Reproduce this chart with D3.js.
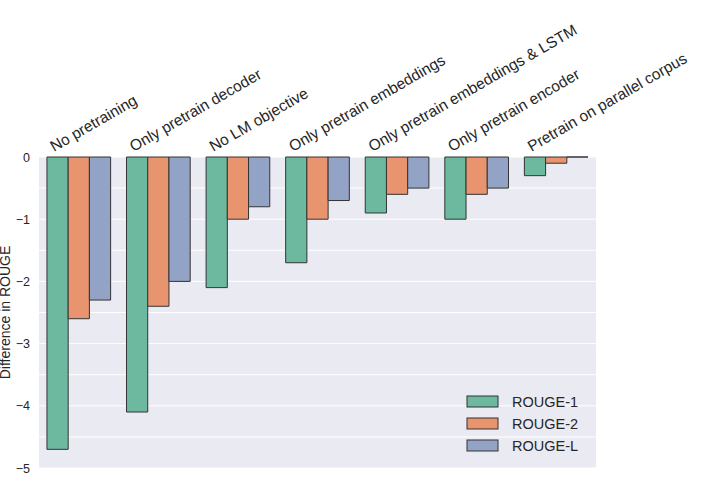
<!DOCTYPE html>
<html>
<head>
<meta charset="utf-8">
<script src="https://cdn.jsdelivr.net/npm/d3@7"></script>
<style>
  body { margin: 0; background: #fff; }
  svg { display: block; font-family: "Liberation Sans", Arial, sans-serif; }
</style>
</head>
<body>
<div id="chart"></div>
<script>
// data
const categories = ["No pretraining", "Only pretrain decoder", "No LM objective",
  "Only pretrain embeddings", "Only pretrain embeddings & LSTM",
  "Only pretrain encoder", "Pretrain on parallel corpus"];
const seriesNames = ["ROUGE-1", "ROUGE-2", "ROUGE-L"];
const rouge1 = [-4.7, -4.1, -2.1, -1.7, -0.9, -1.0, -0.3];
const rouge2 = [-2.6, -2.4, -1.0, -1.0, -0.6, -0.6, -0.1];
const rougeL = [-2.3, -2.0, -0.8, -0.7, -0.5, -0.5, 0.0];
const yTicks = [0, -1, -2, -3, -4, -5];

const colors = ["#6db9a0", "#e8956f", "#93a3c6"];
const seriesValues = [rouge1, rouge2, rougeL];

let width = 705, height = 494;
let margin = ({ top: 157, right: 109, bottom: 26, left: 39 });

let svg = d3.select("#chart").append("svg")
    .attr("width", width)
    .attr("height", height);

let x = d3.scaleBand()
    .domain(d3.range(categories.length))
    .range([margin.left, width - margin.right])
    .paddingInner(0)
    .paddingOuter(0);

let x1 = d3.scaleBand()
    .domain(d3.range(seriesNames.length))
    .range([x.bandwidth() * 0.1, x.bandwidth() * 0.9]);

let y = d3.scaleLinear()
    .domain([-5, 0])
    .range([height - margin.bottom, margin.top]);

// background panel
svg.append("rect")
    .attr("x", margin.left)
    .attr("y", margin.top)
    .attr("width", width - margin.left - margin.right)
    .attr("height", height - margin.top - margin.bottom)
    .attr("fill", "#eaeaf2");

// grid lines every 0.5
svg.append("g")
    .selectAll("line")
    .data(d3.range(-5, 0.01, 0.5))
    .join("line")
    .attr("x1", margin.left)
    .attr("x2", width - margin.right)
    .attr("y1", d => y(d))
    .attr("y2", d => y(d))
    .attr("stroke", "#fff")
    .attr("stroke-width", 1);

// bars (as paths so a zero bar still shows its edge)
let rows = [];
categories.forEach((c, i) => {
    seriesValues.forEach((vals, s) => rows.push({ i, s, value: vals[i] }));
});

svg.append("g")
    .selectAll("path")
    .data(rows)
    .join("path")
    .attr("d", d => {
        let x0 = x(d.i) + x1(d.s), w = x1.bandwidth();
        let y0 = y(0), y1v = y(d.value);
        return `M${x0},${y0}H${x0 + w}V${y1v}H${x0}Z`;
    })
    .attr("fill", d => colors[d.s])
    .attr("stroke", "#333")
    .attr("stroke-width", 1);

// y axis
let yAxis = g => g
    .attr("transform", `translate(${margin.left},0)`)
    .call(d3.axisLeft(y).tickValues(yTicks).tickFormat(d3.format("d")).tickSize(0).tickPadding(9))
    .call(g => g.select(".domain").remove())
    .selectAll("text")
    .style("font-size", "12.5px")
    .style("font-family", "Liberation Sans, Arial, sans-serif")
    .attr("fill", "#262626");

svg.append("g").call(yAxis);

// category labels, rotated
svg.append("g")
    .selectAll("text")
    .data(categories)
    .join("text")
    .attr("transform", (d, i) => `translate(${x(i) + 15},${margin.top - 5}) rotate(-30)`)
    .attr("text-anchor", "start")
    .style("font-size", "15.5px")
    .attr("fill", "#262626")
    .text(d => d);

// y axis title
svg.append("text")
    .attr("transform", `translate(10,${(margin.top + height - margin.bottom) / 2}) rotate(-90)`)
    .attr("text-anchor", "middle")
    .style("font-size", "14px")
    .attr("fill", "#262626")
    .text("Difference in ROUGE");

// legend
let legend = svg.append("g")
    .selectAll("g")
    .data(seriesNames)
    .join("g")
    .attr("transform", (d, i) => `translate(467,${396 + i * 22})`);

legend.append("rect")
    .attr("width", 31)
    .attr("height", 11)
    .attr("fill", (d, i) => colors[i])
    .attr("stroke", "#333")
    .attr("stroke-width", 1);

legend.append("text")
    .attr("x", 45)
    .attr("y", 11)
    .style("font-size", "14.5px")
    .attr("fill", "#262626")
    .text(d => d);
</script>
</body>
</html>
